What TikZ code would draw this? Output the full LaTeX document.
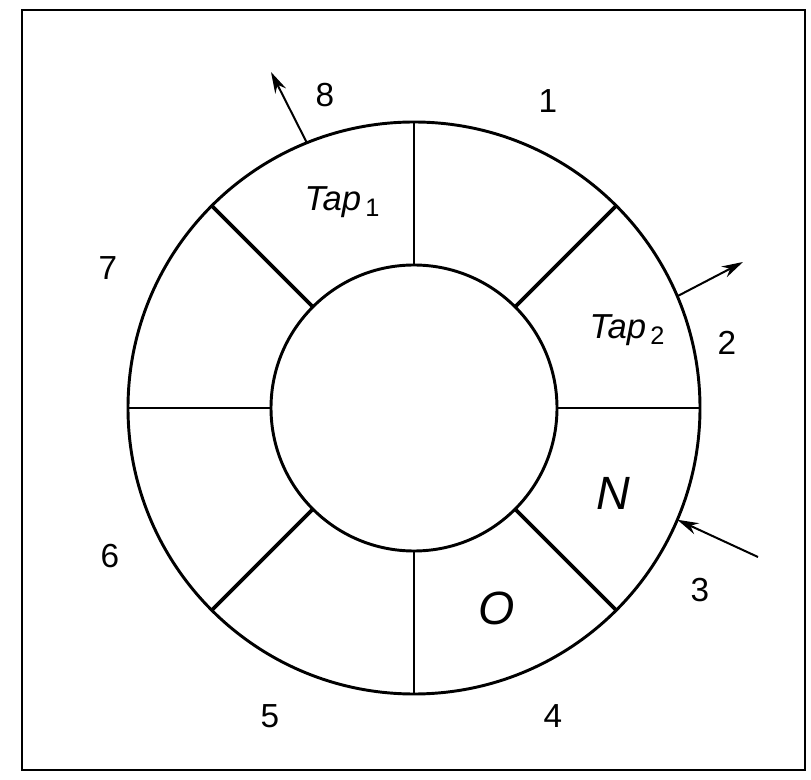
\documentclass[tikz,border=0pt]{standalone}
\usepackage{fontspec}
\setmainfont{Liberation Sans}
\usetikzlibrary{arrows.meta}
\newcommand{\subnum}[1]{\raisebox{-0.35ex}{\fontsize{19}{20}\selectfont\upshape\,#1}}
\begin{document}
\begin{tikzpicture}[x=0.75pt,y=-0.75pt,
  ring/.style={circle,draw,line width=2.2pt,inner sep=0pt,outer sep=0pt},
  spoke/.style={line width=2.2pt},
  num/.style={font=\fontsize{25}{28}\selectfont},
  lab/.style={font=\fontsize{26}{28}\selectfont\itshape},
  big/.style={font=\fontsize{35}{40}\selectfont\itshape},
  tap/.style={line width=1.5pt,-{Stealth[length=16pt,width=9pt]}}]
\useasboundingbox (0,0) rectangle (811,780);
\node[draw,line width=1.7pt,minimum width=783*0.75pt,minimum height=760*0.75pt,inner sep=0pt] (frame) at (413.5,390) {};
\node[ring,minimum size=572*0.75pt] (outer) at (414,408) {};
\node[ring,minimum size=286*0.75pt] (inner) at (414,408) {};
\foreach \a in {0,90,180,270}
  \draw[spoke] (inner.\a) -- (outer.\a);
\foreach \a in {45,135,225,315}
  \draw[spoke,line width=2.8pt] (inner.\a) -- (outer.\a);
% labels
\node[num] (n1) at (548,101) {1};
\node[num] (n2) at (727,343) {2};
\node[num] (n3) at (700,590) {3};
\node[num] (n4) at (553,716) {4};
\node[num] (n5) at (270,716) {5};
\node[num] (n6) at (110,556) {6};
\node[num] (n7) at (108,268) {7};
\node[num] (n8) at (325,95) {8};
\node[lab] (tap1) at (342,202) {Tap\subnum{1}};
\node[lab] (tap2) at (627,330) {Tap\subnum{2}};
\node[big] (N) at (613,493) {N};
\node[big] (O) at (497,608) {O};
% arrows
\coordinate (h8) at (271,72);
\coordinate (h2) at (743,262);
\coordinate (t3) at (758,557);
\draw[tap] (outer.112.6) -- (h8);
\draw[tap] (outer.23.4) -- (h2);
\draw[tap] (t3) -- (outer.-23);
\end{tikzpicture}
\end{document}
